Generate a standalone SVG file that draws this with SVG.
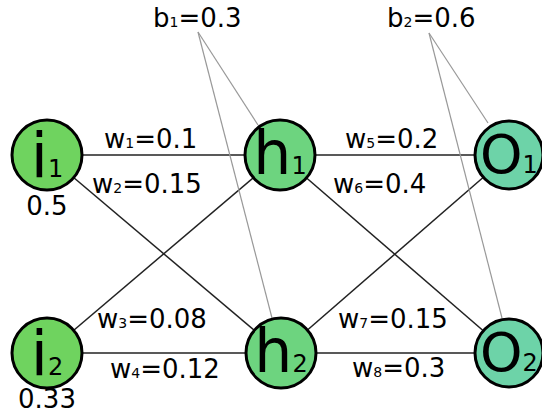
<svg xmlns="http://www.w3.org/2000/svg" width="542" height="414" viewBox="0 0 542 414">
<style>
.c{stroke:#222;stroke-width:1.5;fill:none}
.b{stroke:#999;stroke-width:1.2;fill:none}
.n{stroke:#000;stroke-width:3}
.ni{fill:#6fd35f}
.nh{fill:#6dd47f}
.no{fill:#6dd3a8}
text{font-family:"DejaVu Sans",sans-serif;fill:#000}
.bi{font-size:62px}
.bh{font-size:60px}
.bo{font-size:54px}
.bs{font-size:24px}
.lbl{font-size:26px}
.sub{font-size:14px}
</style>
<rect width="542" height="414" fill="#fff"/>
<g id="connectors">
<line class="c" x1="47" y1="155" x2="280" y2="155"/>
<line class="c" x1="47" y1="155" x2="281" y2="353"/>
<line class="c" x1="47" y1="353" x2="280" y2="155"/>
<line class="c" x1="47" y1="353" x2="281" y2="353"/>
<line class="c" x1="280" y1="155" x2="509" y2="155"/>
<line class="c" x1="280" y1="155" x2="509" y2="353"/>
<line class="c" x1="281" y1="353" x2="509" y2="155"/>
<line class="c" x1="281" y1="353" x2="509" y2="353"/>
<line class="b" x1="198" y1="32" x2="258" y2="125"/>
<line class="b" x1="198" y1="32" x2="272" y2="318"/>
<line class="b" x1="429" y1="33" x2="488" y2="123"/>
<line class="b" x1="429" y1="33" x2="502" y2="318"/>
</g>
<g id="labels">
<text class="lbl" x="104" y="148">w<tspan class="sub">1</tspan>=0.1</text>
<text class="lbl" x="92" y="193">w<tspan class="sub">2</tspan>=0.15</text>
<text class="lbl" x="97" y="328">w<tspan class="sub">3</tspan>=0.08</text>
<text class="lbl" x="110" y="378">w<tspan class="sub">4</tspan>=0.12</text>
<text class="lbl" x="345" y="148">w<tspan class="sub">5</tspan>=0.2</text>
<text class="lbl" x="333" y="193">w<tspan class="sub">6</tspan>=0.4</text>
<text class="lbl" x="338" y="328">w<tspan class="sub">7</tspan>=0.15</text>
<text class="lbl" x="352" y="377">w<tspan class="sub">8</tspan>=0.3</text>
<text class="lbl" x="153" y="27">b<tspan class="sub">1</tspan>=0.3</text>
<text class="lbl" x="387" y="27">b<tspan class="sub">2</tspan>=0.6</text>
</g>
<g id="i1">
<circle class="n ni" cx="47" cy="155" r="35"/>
<text class="bi" x="47" y="177" text-anchor="middle">i<tspan class="bs">1</tspan></text>
<text class="lbl" x="47" y="215" text-anchor="middle">0.5</text>
</g>
<g id="i2">
<circle class="n ni" cx="47" cy="353" r="35"/>
<text class="bi" x="47" y="375" text-anchor="middle">i<tspan class="bs">2</tspan></text>
<text class="lbl" x="47" y="408" text-anchor="middle">0.33</text>
</g>
<g id="h1">
<circle class="n nh" cx="280" cy="155" r="35"/>
<text class="bh" x="280" y="174" text-anchor="middle">h<tspan class="bs">1</tspan></text>
</g>
<g id="h2">
<circle class="n nh" cx="281" cy="353" r="35"/>
<text class="bh" x="281" y="372" text-anchor="middle">h<tspan class="bs">2</tspan></text>
</g>
<g id="o1">
<circle class="n no" cx="509" cy="155" r="34"/>
<text class="bo" x="509" y="173" text-anchor="middle">O<tspan class="bs">1</tspan></text>
</g>
<g id="o2">
<circle class="n no" cx="509" cy="353" r="34"/>
<text class="bo" x="509" y="371" text-anchor="middle">O<tspan class="bs">2</tspan></text>
</g>
</svg>
